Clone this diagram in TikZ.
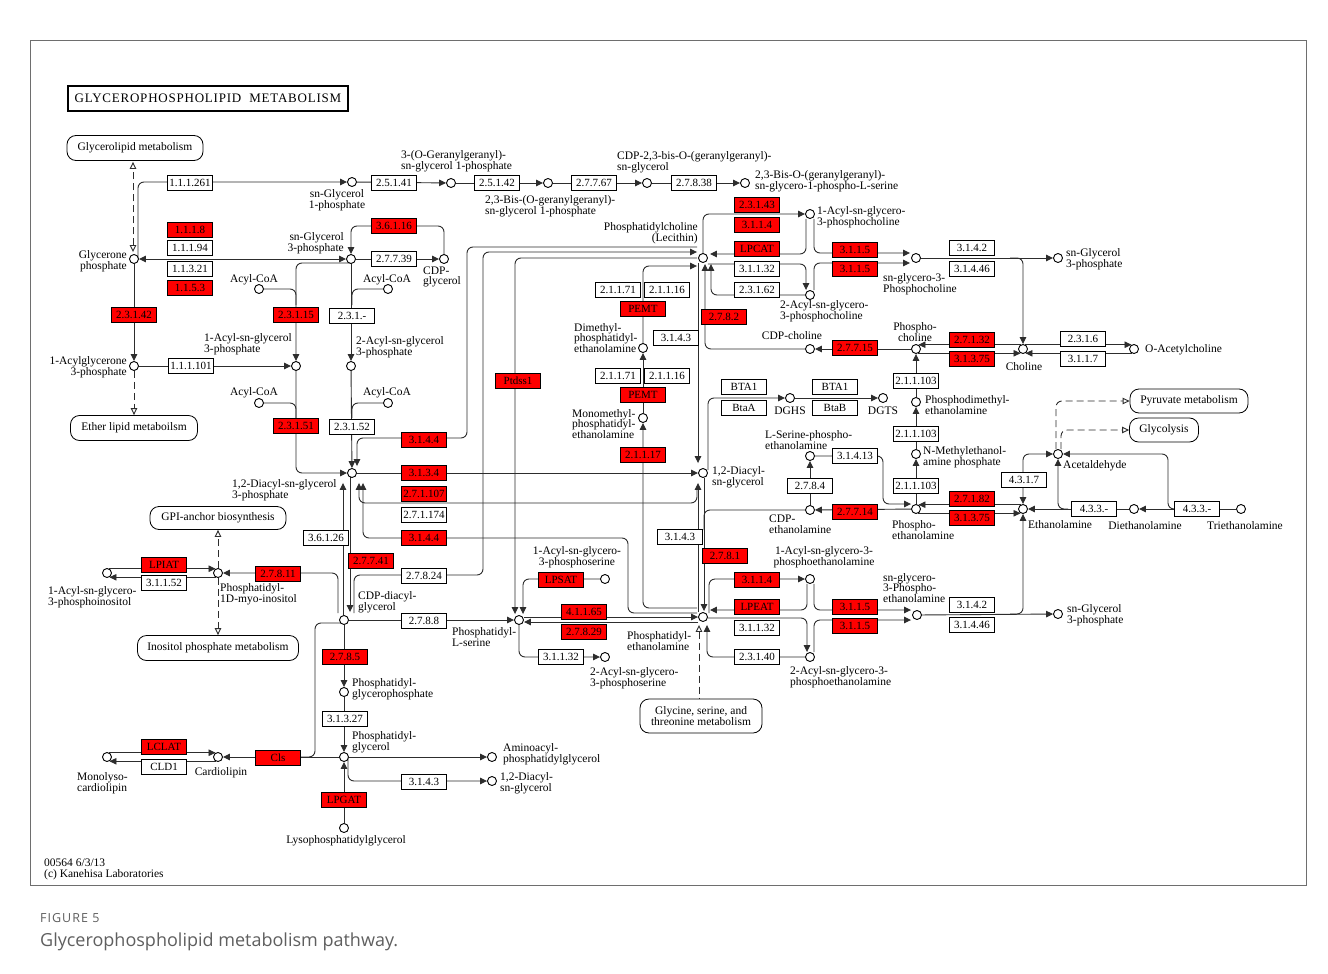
\documentclass[tikz,border=0pt]{standalone}
\usepackage{fontspec}
\setmainfont{Liberation Serif}
\newfontfamily\capfont{Open Sans}
\usetikzlibrary{arrows.meta,calc}
\definecolor{kred}{RGB}{255,0,0}
\definecolor{kline}{RGB}{45,45,45}
\definecolor{frameg}{RGB}{110,110,110}
\definecolor{capg}{RGB}{95,95,95}
\newcommand\kf{\fontsize{11.5}{10.8}\selectfont}
\newcommand\ef{\fontsize{11}{11}\selectfont}
\pgfdeclarelayer{bg}
\pgfsetlayers{bg,main}

\begin{document}
\begin{tikzpicture}[x=1pt, y=-1pt,
    >={Triangle[length=7pt,width=6.5pt]},
    cpd/.style={circle, draw, fill=white, minimum size=9pt, inner sep=0pt, line width=0.9pt},
    ez/.style={draw, fill=white, line width=0.8pt, minimum width=45pt, minimum height=15pt, inner sep=0pt, font=\ef},
    ezr/.style={ez, fill=kred},
    map/.style={draw, fill=white, rounded corners=9pt, line width=0.8pt, inner sep=0pt, font=\kf, align=center},
    lab/.style={inner sep=0pt, font=\kf, align=left},
    ln/.style={draw=kline, line width=0.9pt, rounded corners=6pt},
    arr/.style={ln, ->},
    arrb/.style={ln, <->},
    dsh/.style={ln, dash pattern=on 7pt off 4pt},
    dsha/.style={dsh, -{Triangle[open,length=7pt,width=6.5pt]}},
    dshs/.style={dsh, {Triangle[open,length=7pt,width=6.5pt]}-},
    dshb/.style={dsh, {Triangle[open,length=7pt,width=6.5pt]}-{Triangle[open,length=7pt,width=6.5pt]}}
]
\useasboundingbox (0,0) rectangle (1328,974);

% title and pathway maps
\node[draw, line width=2pt, minimum width=280pt, minimum height=25pt, inner sep=0pt,
      font={\addfontfeatures{LetterSpace=6}\fontsize{13}{13}\selectfont}] (title) at (208,98.5) {GLYCEROPHOSPHOLIPID\ \ METABOLISM};
\node[map, minimum width=136pt, minimum height=25pt] (mglyl) at (135,148) {Glycerolipid metabolism};
\node[map, minimum width=127pt, minimum height=25pt] (mether) at (134,428) {Ether lipid metaboilsm};
\node[map, minimum width=136pt, minimum height=23pt] (mgpi) at (218,518) {GPI-anchor biosynthesis};
\node[map, minimum width=161pt, minimum height=25pt] (minos) at (218,648) {Inositol phosphate metabolism};
\node[map, minimum width=122pt, minimum height=34pt] (mgly) at (701,716) {Glycine, serine, and\\threonine metabolism};
\node[map, minimum width=118pt, minimum height=24pt] (mpyr) at (1189,401) {Pyruvate metabolism};
\node[map, minimum width=69pt, minimum height=24pt] (mglyc) at (1164,430) {Glycolysis};

% compounds
\node[cpd] (gnp) at (134,259) {};
\node[cpd] (sg1p) at (352,182) {};
\node[cpd] (ggg) at (451,183) {};
\node[cpd] (dggg) at (548,183) {};
\node[cpd] (cdpgg) at (647,183) {};
\node[cpd] (dgggs) at (745,183) {};
\node[cpd] (sg3p) at (351,259) {};
\node[cpd] (cdpgly) at (444,259) {};
\node[cpd] (aca) at (259,289) {};
\node[cpd] (acb) at (388,289) {};
\node[cpd] (agnp) at (134,366) {};
\node[cpd] (lpa) at (296,366) {};
\node[cpd] (lpab) at (351,366) {};
\node[cpd] (acc) at (259,403) {};
\node[cpd] (acd) at (388,403) {};
\node[cpd] (pa) at (352,473) {};
\node[cpd] (dag) at (703,473) {};
\node[cpd] (pc) at (703,258) {};
\node[cpd] (lpc) at (810,214) {};
\node[cpd] (lpcb) at (810,295) {};
\node[cpd] (gpc) at (916,258) {};
\node[cpd] (sg3pr) at (1058,258) {};
\node[cpd] (pcho) at (916,349) {};
\node[cpd] (cho) at (1023,349) {};
\node[cpd] (ach) at (1134,349) {};
\node[cpd] (cdpcho) at (810,349) {};
\node[cpd] (dmpe) at (643,348) {};
\node[cpd] (mmpe) at (643,418) {};
\node[cpd] (dghs) at (790,398) {};
\node[cpd] (dgts) at (883,398) {};
\node[cpd] (pdme) at (916,402) {};
\node[cpd] (pme) at (916,454) {};
\node[cpd] (sepe) at (810,456) {};
\node[cpd] (cdpeta) at (810,510) {};
\node[cpd] (peta) at (916,509) {};
\node[cpd] (eta) at (1023,509) {};
\node[cpd] (acald) at (1058,454) {};
\node[cpd] (deta) at (1134,509) {};
\node[cpd] (teta) at (1241,509) {};
\node[cpd] (ps) at (519,620) {};
\node[cpd] (pe) at (703,617) {};
\node[cpd] (lps) at (605,579) {};
\node[cpd] (lpsb) at (605,657) {};
\node[cpd] (lpe) at (810,579) {};
\node[cpd] (lpeb) at (810,657) {};
\node[cpd] (gpe) at (917,615) {};
\node[cpd] (sg3pe) at (1058,614) {};
\node[cpd] (ptdins) at (218,573) {};
\node[cpd] (lpi) at (107,573) {};
\node[cpd] (cdpdag) at (344,620) {};
\node[cpd] (pgp) at (344,692) {};
\node[cpd] (pg) at (344,757) {};
\node[cpd] (cl) at (218,757) {};
\node[cpd] (mlcl) at (107,757) {};
\node[cpd] (lpg) at (344,828) {};
\node[cpd] (aapg) at (492,757) {};
\node[cpd] (dagb) at (492,781) {};

% enzymes
\node[ez] (ea1) at (190,183) {1.1.1.261};
\node[ez] (ea2) at (394,183) {2.5.1.41};
\node[ez] (ea3) at (497,183) {2.5.1.42};
\node[ez] (ea4) at (594,183) {2.7.7.67};
\node[ez] (ea5) at (694,183) {2.7.8.38};
\node[ezr] (eb1) at (190,230) {1.1.1.8};
\node[ez] (eb2) at (190,248) {1.1.1.94};
\node[ez] (eb3) at (190,269) {1.1.3.21};
\node[ezr] (eb4) at (190,288) {1.1.5.3};
\node[ezr] (eb5) at (394,226) {3.6.1.16};
\node[ez] (eb6) at (394,259) {2.7.7.39};
\node[ezr] (ec1) at (134,315) {2.3.1.42};
\node[ezr] (ec2) at (296,315) {2.3.1.15};
\node[ez] (ec3) at (352,316) {2.3.1.-};
\node[ez] (ec4) at (191,366) {1.1.1.101};
\node[ezr] (ec5) at (296,426) {2.3.1.51};
\node[ez] (ec6) at (352,427) {2.3.1.52};
\node[ezr] (ed1) at (424,440) {3.1.4.4};
\node[ezr] (ed2) at (424,473) {3.1.3.4};
\node[ezr] (ed3) at (424,494) {2.7.1.107};
\node[ez] (ed4) at (424,515) {2.7.1.174};
\node[ezr] (ed5) at (424,538) {3.1.4.4};
\node[ez] (ed6) at (326,538) {3.6.1.26};
\node[ezr] (ed7) at (371,561) {2.7.7.41};
\node[ez] (ed8) at (424,576) {2.7.8.24};
\node[ezr] (ee1) at (278,574) {2.7.8.11};
\node[ezr] (ee2) at (164,565) {LPIAT};
\node[ez] (ee3) at (164,583) {3.1.1.52};
\node[ez] (ee4) at (424,621) {2.7.8.8};
\node[ezr] (ee5) at (345,657) {2.7.8.5};
\node[ez] (ee6) at (345,719) {3.1.3.27};
\node[ezr] (ee7) at (278,758) {Cls};
\node[ezr] (ee8) at (164,747) {LCLAT};
\node[ez] (ee9) at (164,767) {CLD1};
\node[ez] (ef1) at (424,782) {3.1.4.3};
\node[ezr] (ef2) at (344,800) {LPGAT};
\node[ezr] (eg1) at (518,381) {Ptdss1};
\node[ez] (eg2) at (618,290) {2.1.1.71};
\node[ez] (eg3) at (667,290) {2.1.1.16};
\node[ezr] (eg4) at (643,309) {PEMT};
\node[ez] (eg5) at (618,376) {2.1.1.71};
\node[ez] (eg6) at (667,376) {2.1.1.16};
\node[ezr] (eg7) at (643,395) {PEMT};
\node[ezr] (eg8) at (643,455) {2.1.1.17};
\node[ez] (eg9) at (676,338) {3.1.4.3};
\node[ezr] (eh1) at (724,317) {2.7.8.2};
\node[ezr] (eh2) at (757,205) {2.3.1.43};
\node[ezr] (eh3) at (757,225) {3.1.1.4};
\node[ezr] (eh4) at (757,249) {LPCAT};
\node[ez] (eh5) at (757,269) {3.1.1.32};
\node[ez] (eh6) at (757,290) {2.3.1.62};
\node[ezr] (eh7) at (855,250) {3.1.1.5};
\node[ezr] (eh8) at (855,269) {3.1.1.5};
\node[ez] (ei1) at (972,248) {3.1.4.2};
\node[ez] (ei2) at (972,269) {3.1.4.46};
\node[ezr] (ei3) at (855,348) {2.7.7.15};
\node[ezr] (ei4) at (972,340) {2.7.1.32};
\node[ezr] (ei5) at (972,359) {3.1.3.75};
\node[ez] (ei6) at (1083,339) {2.3.1.6};
\node[ez] (ei7) at (1083,359) {3.1.1.7};
\node[ez] (ej1) at (916,381) {2.1.1.103};
\node[ez] (ej2) at (916,434) {2.1.1.103};
\node[ez] (ej3) at (916,486) {2.1.1.103};
\node[ez] (ej4) at (744,387) {BTA1};
\node[ez] (ej5) at (744,408) {BtaA};
\node[ez] (ej6) at (835,387) {BTA1};
\node[ez] (ej7) at (835,408) {BtaB};
\node[ez] (ek1) at (855,456) {3.1.4.13};
\node[ez] (ek2) at (810,486) {2.7.8.4};
\node[ezr] (ek3) at (855,512) {2.7.7.14};
\node[ezr] (ek4) at (972,499) {2.7.1.82};
\node[ezr] (ek5) at (972,518) {3.1.3.75};
\node[ez] (ek6) at (1024,480) {4.3.1.7};
\node[ez] (ek7) at (1094,509) {4.3.3.-};
\node[ez] (ek8) at (1197,509) {4.3.3.-};
\node[ez] (el1) at (680,537) {3.1.4.3};
\node[ezr] (el2) at (725,556) {2.7.8.1};
\node[ezr] (el3) at (561,580) {LPSAT};
\node[ezr] (el4) at (584,612) {4.1.1.65};
\node[ezr] (el5) at (584,632) {2.7.8.29};
\node[ez] (el6) at (561,657) {3.1.1.32};
\node[ezr] (em1) at (757,580) {3.1.1.4};
\node[ezr] (em2) at (757,607) {LPEAT};
\node[ez] (em3) at (757,628) {3.1.1.32};
\node[ez] (em4) at (757,657) {2.3.1.40};
\node[ezr] (em5) at (855,607) {3.1.1.5};
\node[ezr] (em6) at (855,626) {3.1.1.5};
\node[ez] (em7) at (972,605) {3.1.4.2};
\node[ez] (em8) at (972,625) {3.1.4.46};

% compound labels
\node[lab, anchor=east, align=right] at (127,261) {Glycerone\\phosphate};
\node[lab, align=center] at (337,200) {sn-Glycerol\\1-phosphate};
\node[lab, anchor=west] at (401,161) {3-(O-Geranylgeranyl)-\\sn-glycerol 1-phosphate};
\node[lab, anchor=west] at (485,206) {2,3-Bis-(O-geranylgeranyl)-\\sn-glycerol 1-phosphate};
\node[lab, anchor=west] at (617,162) {CDP-2,3-bis-O-(geranylgeranyl)-\\sn-glycerol};
\node[lab, anchor=west] at (755,181) {2,3-Bis-O-(geranylgeranyl)-\\sn-glycero-1-phospho-L-serine};
\node[lab, anchor=east, align=right] at (344,243) {sn-Glycerol\\3-phosphate};
\node[lab] at (254,280) {Acyl-CoA};
\node[lab] at (387,280) {Acyl-CoA};
\node[lab] at (254,393) {Acyl-CoA};
\node[lab] at (387,393) {Acyl-CoA};
\node[lab, anchor=west] at (423,277) {CDP-\\glycerol};
\node[lab, anchor=east, align=right] at (127,367) {1-Acylglycerone\\3-phosphate};
\node[lab, anchor=west] at (204,344) {1-Acyl-sn-glycerol\\3-phosphate};
\node[lab, anchor=west] at (356,347) {2-Acyl-sn-glycerol\\3-phosphate};
\node[lab, anchor=west] at (232,490) {1,2-Diacyl-sn-glycerol\\3-phosphate};
\node[lab, anchor=west] at (220,594) {Phosphatidyl-\\1D-myo-inositol};
\node[lab, anchor=west] at (48,597) {1-Acyl-sn-glycero-\\3-phosphoinositol};
\node[lab, anchor=west] at (358,602) {CDP-diacyl-\\glycerol};
\node[lab, anchor=west] at (452,637) {Phosphatidyl-\\L-serine};
\node[lab, align=center] at (577,557) {1-Acyl-sn-glycero-\\3-phosphoserine};
\node[lab, anchor=west] at (590,678) {2-Acyl-sn-glycero-\\3-phosphoserine};
\node[lab, anchor=west] at (627,641) {Phosphatidyl-\\ethanolamine};
\node[lab, align=center] at (824,557) {1-Acyl-sn-glycero-3-\\phosphoethanolamine};
\node[lab, anchor=west] at (790,677) {2-Acyl-sn-glycero-3-\\phosphoethanolamine};
\node[lab, anchor=west] at (883,588) {sn-glycero-\\3-Phospho-\\ethanolamine};
\node[lab, anchor=west] at (1067,615) {sn-Glycerol\\3-phosphate};
\node[lab, anchor=west] at (352,689) {Phosphatidyl-\\glycerophosphate};
\node[lab, anchor=west] at (352,742) {Phosphatidyl-\\glycerol};
\node[lab, anchor=west] at (503,754) {Aminoacyl-\\phosphatidylglycerol};
\node[lab, anchor=west] at (500,783) {1,2-Diacyl-\\sn-glycerol};
\node[lab] at (346,841) {Lysophosphatidylglycerol};
\node[lab] at (221,773) {Cardiolipin};
\node[lab, anchor=west] at (77,783) {Monolyso-\\cardiolipin};
\node[lab, anchor=east, align=right] at (698,233) {Phosphatidylcholine\\(Lecithin)};
\node[lab, anchor=west] at (817,217) {1-Acyl-sn-glycero-\\3-phosphocholine};
\node[lab, anchor=west] at (780,311) {2-Acyl-sn-glycero-\\3-phosphocholine};
\node[lab, anchor=west] at (883,284) {sn-glycero-3-\\Phosphocholine};
\node[lab, anchor=west] at (1066,259) {sn-Glycerol\\3-phosphate};
\node[lab, align=center] at (915,332) {Phospho-\\choline};
\node[lab] at (1024,367) {Choline};
\node[lab, anchor=west] at (1145,350) {O-Acetylcholine};
\node[lab] at (792,336) {CDP-choline};
\node[lab, anchor=west] at (574,338) {Dimethyl-\\phosphatidyl-\\ethanolamine};
\node[lab, anchor=west] at (572,424) {Monomethyl-\\phosphatidyl-\\ethanolamine};
\node[lab] at (790,411) {DGHS};
\node[lab] at (883,411) {DGTS};
\node[lab, anchor=west] at (925,405) {Phosphodimethyl-\\ethanolamine};
\node[lab, anchor=west] at (923,457) {N-Methylethanol-\\amine phosphate};
\node[lab, anchor=west] at (765,440) {L-Serine-phospho-\\ethanolamine};
\node[lab, anchor=west] at (712,477) {1,2-Diacyl-\\sn-glycerol};
\node[lab, anchor=west] at (769,524) {CDP-\\ethanolamine};
\node[lab, anchor=west] at (892,530) {Phospho-\\ethanolamine};
\node[lab, anchor=west] at (1028,525) {Ethanolamine};
\node[lab, anchor=west] at (1063,466) {Acetaldehyde};
\node[lab] at (1145,526) {Diethanolamine};
\node[lab] at (1245,526) {Triethanolamine};
\node[lab, anchor=west] (foot) at (44,869) {00564 6/3/13\\(c) Kanehisa Laboratories};

% figure caption
\node[anchor=west, inner sep=0pt, text=capg,
      font={\capfont\addfontfeatures{LetterSpace=8}\fontsize{12.5}{13}\selectfont}] (fignum) at (40,918) {FIGURE 5};
\node[anchor=west, inner sep=0pt, text=capg, font={\capfont\fontsize{18}{20}\selectfont}] (figcap) at (40,942) {Glycerophospholipid metabolism pathway.};

\begin{pgfonlayer}{bg}
\fill[white] (0,0) rectangle (1328,974);
\draw[frameg, line width=1pt] (30,41) rectangle (1306,885);
% glycerol phosphates and archaeal branch
\draw[arr] ($(gnp)+(4,0)$) |- (sg1p);
\draw[arr] (sg1p) -- (ggg);
\draw[arr] (ggg) -- (dggg);
\draw[arr] (dggg) -- (cdpgg);
\draw[arr] (cdpgg) -- (dgggs);
\draw[dshb] ($(gnp.north)+(-1,-2)$) -- ($(gnp.north |- mglyl.south)+(-1,1)$);
\draw[arrb] (gnp) -- (sg3p);
\draw[arr] (gnp) -- (agnp);
\draw[dsha] (agnp) -- (agnp |- mether.north);
\draw[arr] (agnp) -- (lpa);
\draw[arr] (cdpgly) |- (380,226) -| (sg3p);
\draw[arr] (sg3p) -- (cdpgly);
\draw[arr] ($(sg3p)+(0,4)$) -| (lpa);
\draw[ln] (aca) -| (296,305);
\draw[ln] (acb) -| (352,305);
\draw[arr] (sg3p) -- (lpab);
\draw[arr] (lpa) |- (pa);
\draw[ln] (acc) -| (296,418);
\draw[ln] (acd) -| (352,418);
\draw[arr] (lpab) -- (pa);
% phosphatidate
\draw[arr] ($(pc.west)+(-1,-11)$) -| (467,438) -| ($(pa.north)+(5,-2)$);
\draw[arr] (pa) -- (dag);
\draw[arr] (697,490) |- (359,503) -- ($(pa.south)+(7,5)$);
\draw[arr] ($(pe.west)+(-1,-4)$) -| (628,538) -| ($(pa.south)+(11,5)$);
\draw[arr] ($(cdpdag.north)+(-1,0)$) -- ($(pa.south)+(-9,5)$);
\draw[arr] ($(pa.south)+(-2,-1)$) -- ($(cdpdag.north)+(6,-3)$);
\draw[arr] ($(cdpdag.north)+(10,-2)$) |- (483,575) |- ($(pc.west)+(-1,-6)$);
\draw[arr] ($(cdpdag.north)+(-6,-2)$) |- (ptdins);
\draw[arr] (lpi.60) -- (ptdins.120);
\draw[arr] (ptdins.-120) -- (lpi.-60);
\draw[dsha] (ptdins) -- (ptdins |- mgpi.south);
\draw[dsha] (ptdins) -- (ptdins |- minos.north);
% CDP-diacylglycerol
\draw[arr] (cdpdag) -- (ps);
\draw[arr] (cdpdag) -- (pgp);
\draw[arr] (pgp) -- (pg);
\draw[arr] (lpg) -- (pg);
\draw[arr] (pg) -- (aapg);
\draw[arr] ($(pg)+(4,0)$) |- (dagb);
\draw[arr] (pg) -- (cl);
\draw[ln] ($(cdpdag)+(-2,3)$) -| (315,757) -- (300,757);
\draw[arr] (mlcl.60) -- (cl.120);
\draw[arr] (cl.-120) -- (mlcl.-60);
% serine and ethanolamine lipids
\draw[arr] ($(ps.east)+(0,-3)$) -- (pe.west);
\draw[arr] ($(pe.west)+(0,5)$) -- ($(ps.east)+(0,2)$);
\draw[arr] ($(pe.west)+(-1,-9)$) -| (mmpe);
\draw[arr] (mmpe) -- (dmpe);
\draw[arr] (dmpe) |- ($(pc.west)+(-1,8)$);
\draw[arr] ($(pc.west)+(-1,0)$) -| ($(ps.north)+(-4,-1)$);
\draw[arr] (lps) -| ($(ps.north)+(4,-1)$);
\draw[arr] (ps) |- (lpsb);
\draw[arr] ($(pe.north)+(-5,0)$) -- ($(dag.south)+(-5,5)$);
\draw[arr] ($(dag.south)+(1,0)$) -- ($(pe.north)+(1,-1)$);
\draw[ln] (cdpeta) -| (704,530);
\draw[arr] ($(dag)+(5,-3)$) |- (dghs);
\draw[arr] (dghs) -- (dgts);
\draw[dshs] ($(pe.south)+(-4,3)$) -- ($(pe.south |- mgly.north)+(-4,0)$);
% choline lipids
\draw[arr] ($(pc.south)+(-5,0)$) -- ($(dag.north)+(-5,-5)$);
\draw[arr] (cdpcho) -| ($(pc.south)+(2,1)$);
\draw[arr] (lpcb) -| ($(pc.south)+(8,1)$);
\draw[arr] ($(pc.east)+(0,6)$) -| ($(lpcb.north)+(-4,0)$);
\draw[arr] ($(lpc.south)+(-4,0)$) |- ($(pc.east)+(2,-4)$);
\draw[arr] (pc) |- (lpc);
\draw[arr] ($(lpc.south)+(4,0)$) |- ($(gpc.west)+(-1,-5)$);
\draw[arr] ($(lpcb.north)+(4,0)$) |- ($(gpc.west)+(-1,5)$);
\draw[arr] (gpc) -- (sg3pr);
\draw[arr] (1010,258) -| (cho);
\draw[arr] (cho.120) -- (pcho.60);
\draw[arr] (pcho.-60) -- (cho.-120);
\draw[arr] (cho.60) -- (ach.120);
\draw[arr] (ach.-120) -- (cho.-60);
\draw[arr] (pcho) -- (cdpcho);
\draw[arr] (peta) -- (pme);
\draw[arr] (pme) -- (pdme);
\draw[arr] (pdme) -- (pcho);
% ethanolamine
\draw[arr] (cdpeta) -- (sepe);
\draw[arr] (sepe) -| (883,504) -- ($(peta.west)+(0,-5)$);
\draw[arr] (peta) -- (cdpeta);
\draw[arr] (eta.120) -- (peta.60);
\draw[arr] (peta.-60) -- (eta.-120);
\draw[arrb] (eta) |- (acald);
\draw[arr] (deta) -- (eta);
\draw[arr] (1068,509) -| (acald);
\draw[arr] (teta) -- (deta);
\draw[arr] (1180,509) -| (1168,480) |- (acald);
\draw[dsha] ($(acald.north)+(-2,0)$) |- (mpyr.west);
\draw[dsha] ($(acald.north)+(3,0)$) |- (mglyc.west);
\draw[arr] (gpe) -- (sg3pe);
\draw[arr] (1010,614) -| (eta);
\draw[arr] ($(pe)+(6,-4)$) |- (lpe);
\draw[arr] ($(lpe.south)+(-3,0)$) |- ($(pe.east)+(2,-7)$);
\draw[arr] ($(pe.east)+(0,1)$) -| ($(lpeb.north)+(-3,0)$);
\draw[arr] (lpeb) -| ($(pe.south)+(4,3)$);
\draw[arr] ($(lpe.south)+(4,0)$) |- ($(gpe.west)+(-1,-5)$);
\draw[arr] ($(lpeb.north)+(4,0)$) |- ($(gpe.west)+(-1,5)$);
\end{pgfonlayer}
\end{tikzpicture}
\end{document}
